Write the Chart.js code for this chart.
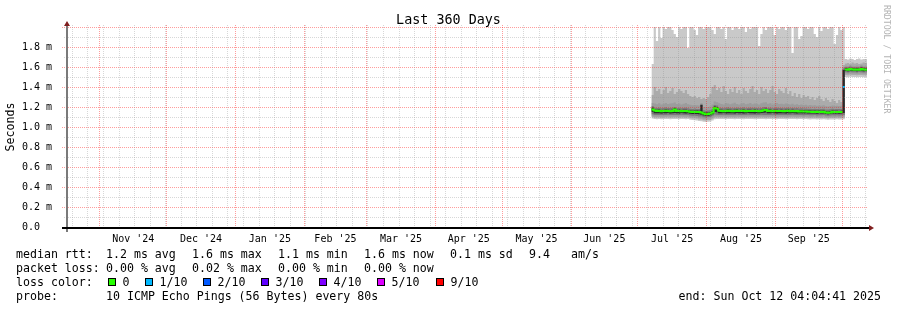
<!DOCTYPE html>
<html>
<head>
<meta charset="utf-8">
<script src="https://cdn.jsdelivr.net/npm/chart.js@4.4.1/dist/chart.umd.min.js"></script>
<style>
  html, body { margin: 0; padding: 0; background: #fff; }
  canvas { display: block; }
</style>
</head>
<body>
<canvas id="chart" width="897" height="310"></canvas>
<script>
// x axis = days since graph start (Oct 17 2024 04:04:41), 360 days shown
const firstDay = 263;

// median rtt per day (ms)
const median = [
  1.175, 1.165, 1.160, 1.162, 1.158, 1.160, 1.163, 1.160, 1.158, 1.161,
  1.175, 1.160, 1.162, 1.158, 1.160, 1.161, 1.158, 1.152, 1.150, 1.153,
  1.151, 1.150, 1.145, 1.135, 1.128, 1.130, 1.135, 1.145, 1.190, 1.185,
  1.162, 1.160, 1.158, 1.161, 1.163, 1.160, 1.158, 1.160, 1.162, 1.159,
  1.160, 1.163, 1.158, 1.160, 1.161, 1.159, 1.162, 1.160, 1.158, 1.160,
  1.168, 1.170, 1.160, 1.162, 1.158, 1.160, 1.161, 1.159, 1.160, 1.158,
  1.160, 1.162, 1.158, 1.160, 1.157, 1.159, 1.156, 1.158, 1.155, 1.154,
  1.152, 1.153, 1.151, 1.152, 1.150, 1.152, 1.151, 1.153, 1.145, 1.143,
  1.146, 1.152, 1.150, 1.151, 1.149, 1.150, 1.400,
  1.575, 1.572, 1.580, 1.574, 1.573, 1.575, 1.572, 1.581, 1.574, 1.573
];

// lost pings out of 10, per day
const lossTenths = [
  0, 0, 0, 0, 0, 0, 0, 0, 0, 0,
  0, 0, 0, 0, 0, 0, 0, 0, 0, 0,
  0, 0, 0, 0, 0, 0, 0, 0, 0, 0,
  0, 0, 0, 0, 0, 0, 0, 0, 0, 0,
  0, 0, 0, 0, 0, 0, 0, 0, 0, 0,
  0, 0, 0, 0, 0, 0, 0, 0, 0, 0,
  0, 0, 0, 0, 0, 0, 0, 0, 0, 0,
  0, 0, 0, 0, 0, 0, 0, 0, 0, 0,
  0, 0, 0, 0, 0, 0, 1,
  0, 0, 0, 0, 0, 0, 0, 0, 0, 0
];

// sorted pings (smoke), ms
const ping1 = [
  1.085, 1.080, 1.078, 1.080, 1.077, 1.080, 1.079, 1.081, 1.078, 1.080,
  1.079, 1.080, 1.078, 1.081, 1.079, 1.077, 1.080, 1.072, 1.070, 1.068,
  1.066, 1.060, 1.058, 1.052, 1.050, 1.053, 1.055, 1.066, 1.078, 1.080,
  1.079, 1.080, 1.081, 1.078, 1.080, 1.079, 1.080, 1.078, 1.081, 1.079,
  1.080, 1.078, 1.080, 1.081, 1.079, 1.080, 1.078, 1.080, 1.079, 1.081,
  1.080, 1.078, 1.080, 1.079, 1.081, 1.080, 1.078, 1.080, 1.079, 1.080,
  1.078, 1.080, 1.079, 1.081, 1.080, 1.078, 1.079, 1.080, 1.077, 1.079,
  1.078, 1.076, 1.077, 1.078, 1.075, 1.077, 1.076, 1.078, 1.074, 1.072,
  1.075, 1.076, 1.074, 1.077, 1.075, 1.076, 1.078,
  1.500, 1.498, 1.502, 1.499, 1.500, 1.497, 1.501, 1.500, 1.498, 1.500
];
const ping2 = [
  1.100, 1.095, 1.094, 1.095, 1.093, 1.095, 1.094, 1.096, 1.093, 1.095,
  1.094, 1.095, 1.093, 1.096, 1.094, 1.093, 1.095, 1.088, 1.086, 1.084,
  1.082, 1.076, 1.074, 1.068, 1.066, 1.069, 1.071, 1.082, 1.094, 1.095,
  1.094, 1.095, 1.096, 1.093, 1.095, 1.094, 1.095, 1.093, 1.096, 1.094,
  1.095, 1.093, 1.095, 1.096, 1.094, 1.095, 1.093, 1.095, 1.094, 1.096,
  1.095, 1.093, 1.095, 1.094, 1.096, 1.095, 1.093, 1.095, 1.094, 1.095,
  1.093, 1.095, 1.094, 1.096, 1.095, 1.093, 1.094, 1.095, 1.092, 1.094,
  1.093, 1.091, 1.092, 1.093, 1.090, 1.092, 1.091, 1.093, 1.089, 1.087,
  1.090, 1.091, 1.089, 1.092, 1.090, 1.091, 1.093,
  1.520, 1.518, 1.522, 1.519, 1.520, 1.517, 1.521, 1.520, 1.518, 1.520
];
const ping3 = [
  1.112, 1.106, 1.105, 1.106, 1.104, 1.106, 1.105, 1.107, 1.104, 1.106,
  1.105, 1.106, 1.104, 1.107, 1.105, 1.104, 1.106, 1.100, 1.098, 1.097,
  1.095, 1.090, 1.088, 1.082, 1.080, 1.083, 1.085, 1.095, 1.106, 1.107,
  1.105, 1.106, 1.107, 1.104, 1.106, 1.105, 1.106, 1.104, 1.107, 1.105,
  1.106, 1.104, 1.106, 1.107, 1.105, 1.106, 1.104, 1.106, 1.105, 1.107,
  1.106, 1.104, 1.106, 1.105, 1.107, 1.106, 1.104, 1.106, 1.105, 1.106,
  1.104, 1.106, 1.105, 1.107, 1.106, 1.104, 1.105, 1.106, 1.103, 1.105,
  1.104, 1.102, 1.103, 1.104, 1.101, 1.103, 1.102, 1.104, 1.100, 1.098,
  1.101, 1.102, 1.100, 1.103, 1.101, 1.102, 1.104,
  1.535, 1.533, 1.537, 1.534, 1.535, 1.532, 1.536, 1.535, 1.533, 1.535
];
const ping4 = [
  1.128, 1.121, 1.120, 1.121, 1.119, 1.121, 1.120, 1.122, 1.119, 1.121,
  1.120, 1.121, 1.119, 1.122, 1.120, 1.119, 1.121, 1.115, 1.113, 1.112,
  1.110, 1.106, 1.104, 1.098, 1.096, 1.099, 1.101, 1.112, 1.125, 1.123,
  1.120, 1.121, 1.122, 1.119, 1.121, 1.120, 1.121, 1.119, 1.122, 1.120,
  1.121, 1.119, 1.121, 1.122, 1.120, 1.121, 1.119, 1.121, 1.120, 1.122,
  1.121, 1.119, 1.121, 1.120, 1.122, 1.121, 1.119, 1.121, 1.120, 1.121,
  1.119, 1.121, 1.120, 1.122, 1.121, 1.119, 1.120, 1.121, 1.118, 1.120,
  1.119, 1.117, 1.118, 1.119, 1.116, 1.118, 1.117, 1.119, 1.115, 1.113,
  1.116, 1.117, 1.115, 1.118, 1.116, 1.117, 1.119,
  1.548, 1.546, 1.550, 1.547, 1.548, 1.545, 1.549, 1.548, 1.546, 1.548
];
const ping5 = [
  1.150, 1.138, 1.137, 1.138, 1.136, 1.138, 1.137, 1.139, 1.136, 1.138,
  1.140, 1.138, 1.136, 1.139, 1.137, 1.136, 1.138, 1.132, 1.130, 1.131,
  1.129, 1.127, 1.122, 1.114, 1.110, 1.112, 1.116, 1.128, 1.150, 1.148,
  1.137, 1.138, 1.139, 1.136, 1.138, 1.137, 1.138, 1.136, 1.139, 1.137,
  1.138, 1.136, 1.138, 1.139, 1.137, 1.138, 1.136, 1.138, 1.137, 1.139,
  1.142, 1.144, 1.138, 1.137, 1.139, 1.138, 1.136, 1.138, 1.137, 1.138,
  1.136, 1.138, 1.137, 1.139, 1.138, 1.136, 1.137, 1.138, 1.135, 1.137,
  1.136, 1.134, 1.135, 1.136, 1.133, 1.135, 1.134, 1.136, 1.130, 1.128,
  1.131, 1.134, 1.132, 1.135, 1.133, 1.134, 1.140,
  1.560, 1.558, 1.563, 1.559, 1.560, 1.557, 1.561, 1.563, 1.558, 1.560
];
const ping6 = [
  1.195, 1.175, 1.172, 1.174, 1.170, 1.172, 1.175, 1.172, 1.170, 1.173,
  1.188, 1.172, 1.174, 1.170, 1.172, 1.173, 1.170, 1.165, 1.163, 1.166,
  1.164, 1.163, 1.220, 1.150, 1.144, 1.146, 1.150, 1.160, 1.205, 1.200,
  1.174, 1.172, 1.170, 1.173, 1.175, 1.172, 1.170, 1.172, 1.174, 1.171,
  1.172, 1.175, 1.170, 1.172, 1.173, 1.171, 1.174, 1.172, 1.170, 1.172,
  1.180, 1.182, 1.172, 1.174, 1.170, 1.172, 1.173, 1.171, 1.172, 1.170,
  1.172, 1.174, 1.170, 1.172, 1.169, 1.171, 1.168, 1.170, 1.167, 1.166,
  1.164, 1.165, 1.163, 1.164, 1.162, 1.164, 1.163, 1.165, 1.158, 1.156,
  1.159, 1.164, 1.162, 1.163, 1.161, 1.162, 1.570,
  1.588, 1.585, 1.592, 1.587, 1.586, 1.588, 1.585, 1.594, 1.587, 1.586
];
const ping7 = [
  1.210, 1.192, 1.190, 1.193, 1.188, 1.190, 1.194, 1.190, 1.189, 1.192,
  1.200, 1.190, 1.193, 1.188, 1.190, 1.192, 1.188, 1.183, 1.180, 1.184,
  1.181, 1.180, 1.230, 1.168, 1.162, 1.164, 1.168, 1.180, 1.220, 1.215,
  1.192, 1.190, 1.188, 1.192, 1.194, 1.190, 1.188, 1.191, 1.193, 1.189,
  1.190, 1.194, 1.188, 1.190, 1.192, 1.189, 1.193, 1.190, 1.188, 1.191,
  1.198, 1.200, 1.190, 1.193, 1.188, 1.190, 1.192, 1.189, 1.190, 1.188,
  1.190, 1.193, 1.188, 1.190, 1.187, 1.189, 1.186, 1.188, 1.185, 1.184,
  1.182, 1.183, 1.181, 1.182, 1.180, 1.182, 1.181, 1.183, 1.176, 1.174,
  1.177, 1.182, 1.180, 1.181, 1.179, 1.180, 1.585,
  1.600, 1.597, 1.604, 1.599, 1.598, 1.600, 1.597, 1.606, 1.599, 1.598
];
const ping8 = [
  1.240, 1.235, 1.228, 1.238, 1.225, 1.232, 1.240, 1.229, 1.234, 1.237,
  1.245, 1.230, 1.236, 1.226, 1.233, 1.239, 1.227, 1.222, 1.218, 1.221,
  1.217, 1.215, 1.240, 1.200, 1.195, 1.198, 1.205, 1.225, 1.255, 1.248,
  1.238, 1.231, 1.226, 1.240, 1.234, 1.228, 1.236, 1.242, 1.230, 1.226,
  1.235, 1.241, 1.228, 1.233, 1.239, 1.227, 1.236, 1.232, 1.225, 1.238,
  1.244, 1.247, 1.232, 1.238, 1.226, 1.234, 1.240, 1.229, 1.233, 1.227,
  1.236, 1.231, 1.225, 1.233, 1.222, 1.228, 1.220, 1.226, 1.218, 1.222,
  1.216, 1.219, 1.214, 1.217, 1.212, 1.216, 1.213, 1.218, 1.208, 1.206,
  1.210, 1.215, 1.211, 1.213, 1.209, 1.212, 1.600,
  1.613, 1.610, 1.618, 1.612, 1.611, 1.614, 1.610, 1.620, 1.612, 1.611
];
const ping9 = [
  1.32, 1.40, 1.36, 1.38, 1.33, 1.37, 1.40, 1.34, 1.36, 1.39,
  1.33, 1.35, 1.38, 1.36, 1.34, 1.37, 1.33, 1.31, 1.30, 1.31,
  1.29, 1.30, 1.28, 1.29, 1.28, 1.30, 1.33, 1.40, 1.42, 1.37,
  1.39, 1.35, 1.41, 1.36, 1.33, 1.38, 1.35, 1.40, 1.34, 1.37,
  1.33, 1.39, 1.36, 1.34, 1.38, 1.41, 1.35, 1.37, 1.33, 1.40,
  1.36, 1.38, 1.34, 1.37, 1.41, 1.35, 1.33, 1.38, 1.36, 1.34,
  1.39, 1.33, 1.36, 1.31, 1.34, 1.30, 1.33, 1.29, 1.32, 1.30,
  1.31, 1.28, 1.30, 1.27, 1.29, 1.31, 1.28, 1.26, 1.29, 1.27,
  1.25, 1.28, 1.26, 1.24, 1.27, 1.25, 1.62,
  1.635, 1.640, 1.630, 1.645, 1.635, 1.640, 1.630, 1.635, 1.645, 1.640
];
const ping10 = [
  1.63, 2.05, 1.86, 2.05, 1.89, 2.05, 1.98, 2.05, 2.05, 1.97,
  1.93, 1.90, 2.05, 1.98, 2.05, 2.05, 1.79, 2.05, 2.05, 1.97,
  1.92, 2.05, 2.05, 1.98, 2.05, 2.05, 2.05, 1.97, 1.93, 2.05,
  2.05, 1.98, 2.05, 1.88, 2.05, 2.05, 1.97, 2.05, 2.05, 1.98,
  2.05, 2.05, 1.95, 2.05, 1.98, 2.05, 2.05, 2.05, 1.81, 1.93,
  2.05, 1.97, 2.05, 2.05, 2.05, 1.92, 2.05, 1.98, 2.05, 2.05,
  1.97, 2.05, 2.05, 1.74, 2.05, 2.05, 1.88, 1.91, 2.05, 2.05,
  1.98, 2.05, 2.05, 1.93, 1.90, 2.05, 1.96, 2.05, 2.05, 1.98,
  2.05, 2.05, 1.83, 1.92, 2.05, 1.97, 2.05,
  1.680, 1.675, 1.685, 1.680, 1.670, 1.680, 1.685, 1.675, 1.680, 1.680
];

// month grid (days since start) and labels
const monthStarts = [14.8, 44.8, 75.8, 106.8, 134.8, 165.8, 195.8, 226.8, 256.8, 287.8, 318.8, 348.8];
const monthLabels = ["Nov '24", "Dec '24", "Jan '25", "Feb '25", "Mar '25", "Apr '25",
                     "May '25", "Jun '25", "Jul '25", "Aug '25", "Sep '25"];
const firstWeek = 2.4;

const lossLevels = [0, 1, 2, 3, 4, 5, 9];
const lossLabels = ['0', '1/10', '2/10', '3/10', '4/10', '5/10', '9/10'];
const lossColors = ['#26ff00', '#00b8ff', '#0059ff', '#5e00ff', '#7e00ff', '#dd00ff', '#ff0000'];

const rttLine = [['median rtt:', 16], ['1.2 ms avg', 106], ['1.6 ms max', 192], ['1.1 ms min', 278],
                 ['1.6 ms now', 364], ['0.1 ms sd', 450], ['9.4', 529], ['am/s', 571]];
const lossLine = [['packet loss:', 16], ['0.00 % avg', 106], ['0.02 % max', 192],
                  ['0.00 % min', 278], ['0.00 % now', 364]];
const probeText = '10 ICMP Echo Pings (56 Bytes) every 80s';
const endText = 'end: Sun Oct 12 04:04:41 2025';

const days = median.map((_, i) => firstDay + i);
const monthMids = monthStarts.slice(0, -1).map((s, i) => (s + monthStarts[i + 1]) / 2);
const weekLines = [];
for (let d = firstWeek; d < 360; d += 7) weekLines.push(d);

const MONO = '"DejaVu Sans Mono"';

// rrdtool style: each value fills its whole day column
function steps(vals, keep) {
  const pts = [];
  vals.forEach((v, i) => {
    if (keep && !keep(i)) { pts.push({ x: days[i], y: null }); return; }
    pts.push({ x: days[i], y: v }, { x: days[i] + 1, y: v });
  });
  return pts;
}

const datasets = [];
lossLevels.forEach((lvl, k) => {
  if (!lossTenths.includes(lvl)) return;
  datasets.push({
    data: steps(median, i => lossTenths[i] === lvl),
    borderColor: lossColors[k], borderWidth: 2, pointRadius: 0, fill: false
  });
});

const smoke = [
  [ping6, ping5, '#2a2a2a'],
  [ping7, ping4, '#7a7a7a'],
  [ping8, ping3, '#9c9c9c'],
  [ping9, ping2, '#ababab'],
  [ping10, ping1, '#c9c9c9']
];
smoke.forEach(([hi, lo, color]) => {
  const hiIndex = datasets.length;
  datasets.push({ data: steps(hi), borderColor: 'rgba(0,0,0,0)', borderWidth: 0, pointRadius: 0, fill: false });
  datasets.push({ data: steps(lo), borderColor: 'rgba(0,0,0,0)', borderWidth: 0, pointRadius: 0,
                  fill: hiIndex, backgroundColor: color });
});

const decorations = {
  id: 'decorations',
  afterDatasetsDraw(chart) {
    const ctx = chart.ctx;
    const { left, right, top, bottom } = chart.chartArea;
    const xs = chart.scales.x, ys = chart.scales.y;
    const grey = 'rgba(143,143,143,0.36)', red = 'rgba(255,20,20,0.42)';
    ctx.save();
    ctx.lineWidth = 1;
    ctx.setLineDash([1, 1]);
    ys.ticks.forEach(t => {
      if (t.value <= 0) return;
      const major = Math.round(t.value * 10) % 2 === 0;
      const py = Math.round(ys.getPixelForValue(t.value)) + 0.5;
      ctx.strokeStyle = major ? red : grey;
      ctx.beginPath();
      ctx.moveTo(major ? left - 5 : left - 3, py);
      ctx.lineTo(right, py);
      ctx.stroke();
    });
    weekLines.forEach(d => {
      const px = Math.floor(xs.getPixelForValue(d)) + 0.5;
      ctx.strokeStyle = grey;
      ctx.beginPath(); ctx.moveTo(px, top - 2); ctx.lineTo(px, bottom); ctx.stroke();
    });
    monthStarts.forEach(d => {
      const px = Math.floor(xs.getPixelForValue(d)) + 0.5;
      ctx.strokeStyle = red;
      ctx.beginPath(); ctx.moveTo(px, top - 2); ctx.lineTo(px, bottom); ctx.stroke();
    });
    ctx.restore();
  },
  afterDraw(chart) {
    const ctx = chart.ctx;
    const { left, right, top, bottom } = chart.chartArea;
    ctx.save();
    // axes
    ctx.fillStyle = '#7a7a7a';
    ctx.fillRect(left - 1, top - 2, 2, bottom - top + 7);
    ctx.fillStyle = '#000';
    ctx.fillRect(left - 5, bottom, right - left + 8, 2);
    // arrows
    ctx.fillStyle = '#801f1f';
    ctx.beginPath();
    ctx.moveTo(left, top - 6); ctx.lineTo(left - 3, top - 1); ctx.lineTo(left + 3, top - 1);
    ctx.fill();
    ctx.beginPath();
    ctx.moveTo(right + 7, bottom + 1); ctx.lineTo(right + 2, bottom - 2); ctx.lineTo(right + 2, bottom + 4);
    ctx.fill();

    // title
    ctx.fillStyle = '#000';
    ctx.textBaseline = 'alphabetic';
    ctx.textAlign = 'center';
    ctx.font = '13.4px ' + MONO;
    ctx.fillText('Last 360 Days', 448.5, 24);

    // legend
    ctx.textAlign = 'left';
    ctx.font = '11.6px ' + MONO;
    rttLine.forEach(([t, x]) => ctx.fillText(t, x, 258));
    lossLine.forEach(([t, x]) => ctx.fillText(t, x, 272));
    ctx.fillText('loss color:', 16, 286);
    const boxX = [108, 145, 203, 261, 319, 377, 436];
    lossLabels.forEach((lab, k) => {
      ctx.fillStyle = lossColors[k];
      ctx.fillRect(boxX[k], 278, 8, 8);
      ctx.strokeStyle = '#000';
      ctx.lineWidth = 1;
      ctx.strokeRect(boxX[k] + 0.5, 278.5, 7, 7);
      ctx.fillStyle = '#000';
      ctx.fillText(lab, boxX[k] + 14.5, 286);
    });
    ctx.fillText('probe:', 16, 300);
    ctx.fillText(probeText, 106, 300);
    ctx.textAlign = 'right';
    ctx.fillText(endText, 881, 300);

    // watermark
    ctx.translate(886.5, 5);
    ctx.rotate(Math.PI / 2);
    ctx.textAlign = 'left';
    ctx.textBaseline = 'middle';
    ctx.fillStyle = '#b4b4b4';
    ctx.font = '8.2px ' + MONO;
    ctx.fillText('RRDTOOL / TOBI OETIKER', 0, 0);
    ctx.restore();
  }
};

new Chart(document.getElementById('chart'), {
  type: 'line',
  data: { datasets },
  options: {
    responsive: false,
    animation: false,
    devicePixelRatio: 1,
    layout: { padding: { top: 27, right: 30, bottom: 63, left: 0 } },
    elements: { line: { tension: 0 } },
    plugins: { legend: { display: false }, tooltip: { enabled: false } },
    scales: {
      x: {
        type: 'linear', min: 0, max: 360,
        grid: { display: false }, border: { display: false },
        afterBuildTicks: s => { s.ticks = monthMids.map(v => ({ value: v })); },
        afterFit: s => { s.height = 20; },
        ticks: {
          autoSkip: false, maxRotation: 0, minRotation: 0, padding: -2,
          color: '#000', font: { family: MONO, size: 10 },
          callback: (v, i) => monthLabels[i]
        }
      },
      y: {
        min: 0, max: 2.0,
        grid: { display: false }, border: { display: false },
        afterFit: s => { s.width = 67; },
        title: { display: true, text: 'Seconds', color: '#000', padding: { top: 4, bottom: 0 },
                 font: { family: MONO, size: 11.6 } },
        ticks: {
          stepSize: 0.1, autoSkip: false, padding: 7, color: '#000',
          font: { family: MONO, size: 10 },
          callback: v => {
            const n = Math.round(v * 10);
            if (n % 2 !== 0 || n >= 20) return '';
            return n === 0 ? '0.0  ' : (n / 10).toFixed(1) + ' m';
          }
        }
      }
    }
  },
  plugins: [decorations]
});
</script>
</body>
</html>
